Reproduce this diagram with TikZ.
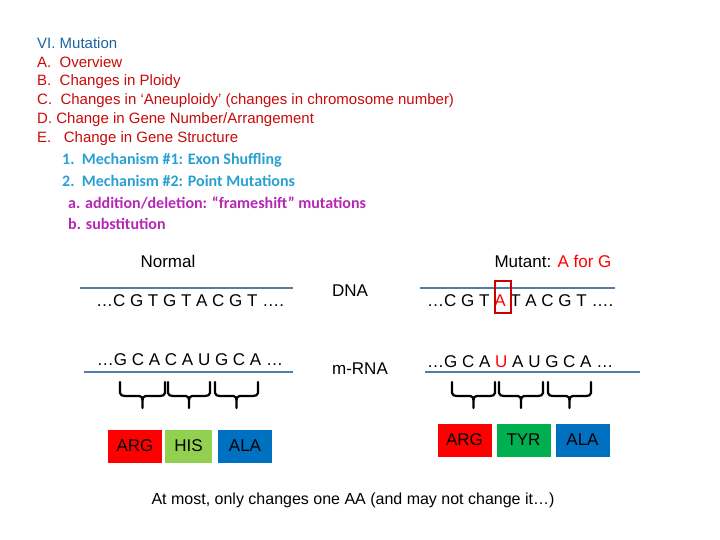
\documentclass[tikz,border=0pt]{standalone}
\usepackage{fontspec}
\setmainfont{Liberation Sans}
\newfontfamily\carlitofont{Carlito}
\definecolor{tblue}{RGB}{27,100,160}
\definecolor{tred}{RGB}{200,10,10}
\definecolor{tcyan}{RGB}{40,160,210}
\definecolor{tmag}{RGB}{180,40,180}
\definecolor{lineblue}{RGB}{80,125,170}
\definecolor{bred}{RGB}{255,0,0}
\definecolor{bgreen}{RGB}{146,208,80}
\definecolor{bblue}{RGB}{0,112,192}
\definecolor{dgreen}{RGB}{0,176,80}
\begin{document}
\begin{tikzpicture}[x=1pt,y=-1pt,
  ol/.style={anchor=west,inner sep=0,font=\fontsize{15}{15}\selectfont},
  ol2/.style={anchor=west,inner sep=0,font=\carlitofont\bfseries\fontsize{16}{16}\selectfont},
  seq/.style={inner sep=0,font=\fontsize{17}{17}\selectfont},
  strand/.style={draw=lineblue,line width=2.5pt},
  aa/.style={minimum width=54pt,minimum height=33pt,inner sep=0,font=\fontsize{17}{17}\selectfont},
  brace/.style={line width=2.2pt,line cap=round}]
\useasboundingbox (0,0) rectangle (720,540);
\node[ol,text=tblue] (t0) at (37,43) {VI. Mutation};
\node[ol,text=tred] (t1) at (37,62) {A.\ \ Overview};
\node[ol,text=tred] (t2) at (37,82) {B.\ \ Changes in Ploidy};
\node[ol,text=tred] (t3) at (37,101) {C.\ \ Changes in ‘Aneuploidy’ (changes in chromosome number)};
\node[ol,text=tred] (t4) at (37,120) {D.\ Change in Gene Number/Arrangement};
\node[ol,text=tred] (t5) at (37,139) {E.\ \ \ Change in Gene Structure};
\node[ol2,text=tcyan] (t6) at (62,160) {1.\ \ Mechanism \#1: Exon Shuffling};
\node[ol2,text=tcyan] (t7) at (62,181) {2.\ \ Mechanism \#2: Point Mutations};
\node[ol2,text=tmag] (t8) at (68,203) {a. addition/deletion: “frameshift” mutations};
\node[ol2,text=tmag] (t9) at (68,224) {b. substitution};

\node[seq] (normal) at (168,261) {Normal};
\node[seq] (mutant) at (553,261) {Mutant: \textcolor{red}{A for G}};

\coordinate (l1a) at (80,288); \coordinate (l1b) at (293,288);
\draw[strand] (l1a) -- (l1b);
\coordinate (r1a) at (420,288); \coordinate (r1b) at (615,288);
\draw[strand] (r1a) -- (r1b);
\node[seq] (dnaL) at (190,301) {…C G T G T A C G T ….};
\node[seq] (dna) at (350,291) {DNA};
\node[seq,anchor=west] (dnaR) at (427,301) {…C G T \textcolor{red}{A} T A C G T ….};
\node[draw=red!80!black,line width=2pt,minimum width=16pt,minimum height=32pt,inner sep=0] (mbox) at (503,297) {};

\node[seq] (rnaL) at (190,360) {…G C A C A U G C A …};
\node[seq] (rna) at (360,369) {m-RNA};
\node[seq,anchor=west] (rnaR) at (427,362) {…G C A \textcolor{red}{U} A U G C A …};
\coordinate (l2a) at (84,372); \coordinate (l2b) at (293,372);
\draw[strand] (l2a) -- (l2b);
\coordinate (r2a) at (425,372); \coordinate (r2b) at (640,372);
\draw[strand] (r2a) -- (r2b);

\foreach \a/\b in {120/165,168/210,215/258,452/495,499/543,548/591}{
  \pgfmathsetmacro{\m}{(\a+\b)/2}
  \pgfmathsetmacro{\ml}{\m-3}
  \pgfmathsetmacro{\mr}{\m+3}
  \pgfmathsetmacro{\al}{\a+5}
  \pgfmathsetmacro{\br}{\b-5}
  \draw[brace] (\a,382) -- (\a,393) to[out=-90,in=180] (\al,396) -- (\ml,396) to[out=0,in=90] (\m,400) -- (\m,408);
  \draw[brace] (\b,382) -- (\b,393) to[out=-90,in=0] (\br,396) -- (\mr,396) to[out=180,in=90] (\m,400);
}

\node[aa,fill=bred] (argL) at (135,446) {ARG};
\node[aa,fill=bgreen,minimum width=47pt] (his) at (188.5,446) {HIS};
\node[aa,fill=bblue] (alaL) at (245,446) {ALA};
\node[aa,fill=bred] (argR) at (464.5,440) {ARG};
\node[aa,fill=dgreen] (tyr) at (523.5,440) {TYR};
\node[aa,fill=bblue] (alaR) at (582.5,440) {ALA};

\node[seq,font=\fontsize{16}{16}\selectfont] (note) at (353,500) {At most, only changes one AA (and may not change it…)};
\end{tikzpicture}
\end{document}
